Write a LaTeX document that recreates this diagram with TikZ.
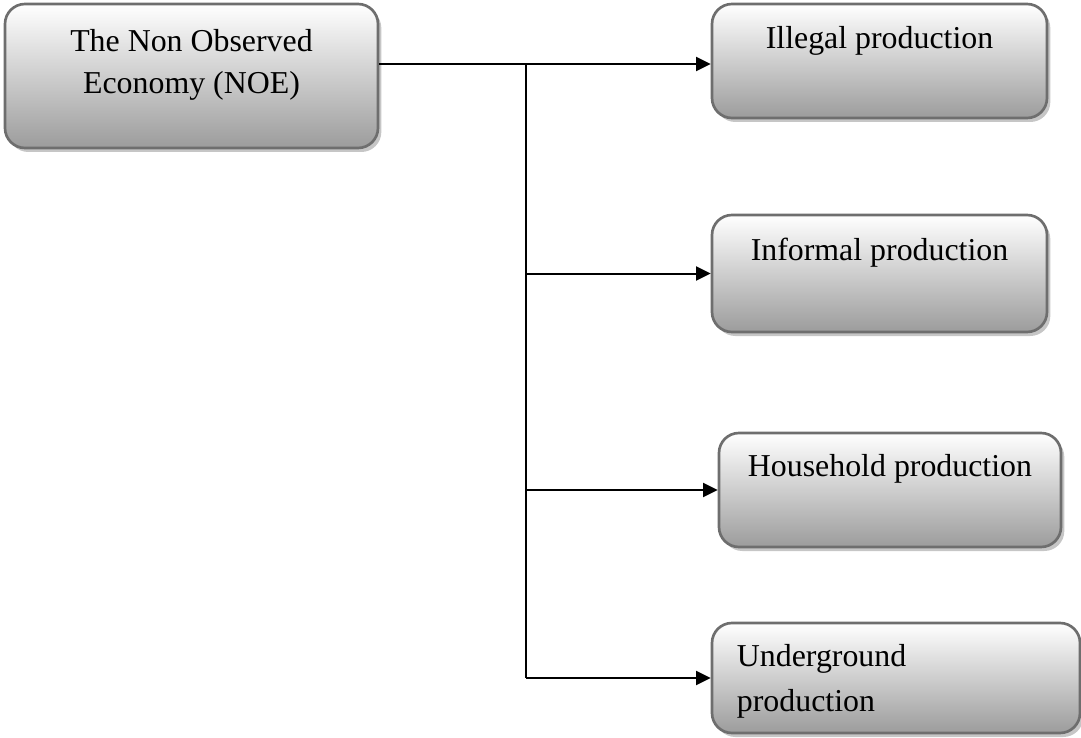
\documentclass[tikz,border=0pt]{standalone}
\usepackage{fontspec}
\setmainfont{Liberation Serif}
\usetikzlibrary{arrows.meta,shadows,fit}
\definecolor{boxedge}{HTML}{6E6E6E}
\definecolor{boxbottom}{HTML}{9C9C9C}
\definecolor{boxshadow}{HTML}{C6C6C6}
\begin{document}
\begin{tikzpicture}[x=0.75pt,y=-0.75pt,
  box/.style={draw=boxedge, line width=2pt, rounded corners=15pt,
    top color=white, bottom color=boxbottom, inner sep=0pt,
    drop shadow={fill=boxshadow, opacity=1, shadow xshift=2.5pt, shadow yshift=-3pt}},
  lbl/.style={inner sep=0pt, font=\fontsize{23.9pt}{31.5pt}\selectfont},
  link/.style={line width=1.5pt, black},
  feed/.style={link, -{Triangle[length=11pt,width=10.5pt]}}]
\useasboundingbox (0,0) rectangle (1081,738);

% boxes
\node[box, fit={(5,4) (378,148)}] (noe) {};
\node[box, fit={(712,4) (1047,118)}] (ill) {};
\node[box, fit={(712,215) (1047,332)}] (inf) {};
\node[box, fit={(719,433) (1061,547)}] (hou) {};
\node[box, fit={(712,623) (1080,733)}] (und) {};

% labels
\node[lbl, anchor=base] (noetxt) at ([yshift=-36.75pt]noe.north)
  {\begin{tabular}[t]{@{}c@{}}The Non Observed\\Economy (NOE)\end{tabular}};
\node[lbl, anchor=base] (illtxt) at ([yshift=-34.5pt]ill.north) {Illegal production};
\node[lbl, anchor=base] (inftxt) at ([yshift=-35.25pt]inf.north) {Informal production};
\node[lbl, anchor=base] (houtxt) at ([yshift=-33.75pt]hou.north) {Household production};
\node[lbl, anchor=base west] (undtxt) at ([xshift=19.5pt,yshift=-33.75pt]und.north west)
  {\fontsize{23.9pt}{33.75pt}\selectfont\begin{tabular}[t]{@{}l@{}}Underground\\production\end{tabular}};

% connectors
\coordinate (j0) at (526,64);
\draw[feed] (noe.east |- j0) -- (ill.west |- j0);
\draw[link] (j0) -- (j0 |- und.west);
\draw[feed] (j0 |- inf.west) -- (inf.west);
\draw[feed] (j0 |- hou.west) -- (hou.west);
\draw[feed] (j0 |- und.west) -- (und.west);
\end{tikzpicture}
\end{document}
